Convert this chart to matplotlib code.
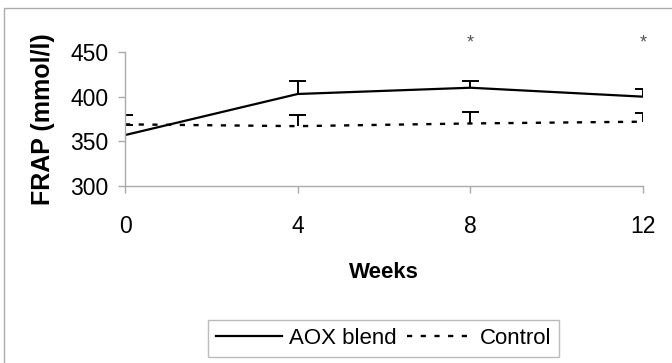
import matplotlib
matplotlib.use('Agg')
import matplotlib.pyplot as plt
from matplotlib.patches import Rectangle
import numpy as np

plt.rcParams['font.family'] = ['Liberation Sans', 'DejaVu Sans']

weeks = np.array([0, 4, 8, 12])
aox = np.array([357, 403, 410, 400])
aox_err = np.array([11, 14, 8, 9])
control = np.array([369, 367, 370, 372])
control_err = np.array([10, 13, 13, 10])
star_weeks = [8, 12]
y_ticks = [300, 350, 400, 450]

grey = '#ababab'

fig = plt.figure(figsize=(6.72, 3.63), dpi=100)
ax = fig.add_axes([125 / 672, 1 - 186 / 363, (643 - 125) / 672, (186 - 52) / 363])

# outer chart frame (cut off at right and bottom like the scan)
fig.patches.append(Rectangle((4 / 672, -0.05), 1.1, 1 - 8 / 363 + 0.05, transform=fig.transFigure,
                             fill=False, edgecolor=grey, linewidth=1.0))

ax.plot(weeks, aox, color='black', linewidth=1.6, linestyle='-', label='AOX blend')
ax.plot(weeks, control, color='black', linewidth=1.7, linestyle=(0, (2.2, 3.6)), label='Control')

# plus-only error bars, drawn by hand so there is no cap at the mean
cap = 0.19
for y, e in [(aox, aox_err), (control, control_err)]:
    ax.vlines(weeks, y, y + e, color='black', linewidth=1.4)
    ax.hlines(y + e, weeks - cap, weeks + cap, color='black', linewidth=1.4)

for w in star_weeks:
    ax.text(w, 460, '*', ha='center', va='center', fontsize=13, color='#555555', clip_on=False)

ax.set_xlim(0, 12)
ax.set_ylim(300, 450)
ax.set_xticks(weeks)
ax.set_yticks(y_ticks)
for s in ['top', 'right']:
    ax.spines[s].set_visible(False)
for s in ['left', 'bottom']:
    ax.spines[s].set_color(grey)
    ax.spines[s].set_linewidth(1.0)
ax.tick_params(axis='both', colors=grey, labelcolor='black', labelsize=16.5, length=5, width=1.0)
ax.tick_params(axis='x', pad=16)
ax.tick_params(axis='y', pad=7)

ax.set_xlabel('Weeks', fontsize=16, fontweight='bold', labelpad=17)
ax.set_ylabel('FRAP (mmol/l)', fontsize=18, fontweight='bold', labelpad=11)

leg = fig.legend(loc='center', bbox_to_anchor=(383.5 / 672, 1 - 338.5 / 363), ncol=2, fontsize=16,
                 frameon=True, fancybox=False, edgecolor=grey, handlelength=3.0, handletextpad=0.3,
                 columnspacing=0.45, borderpad=0.35, borderaxespad=0)
leg.get_frame().set_linewidth(1.0)

fig.savefig('out.png', dpi=100)
